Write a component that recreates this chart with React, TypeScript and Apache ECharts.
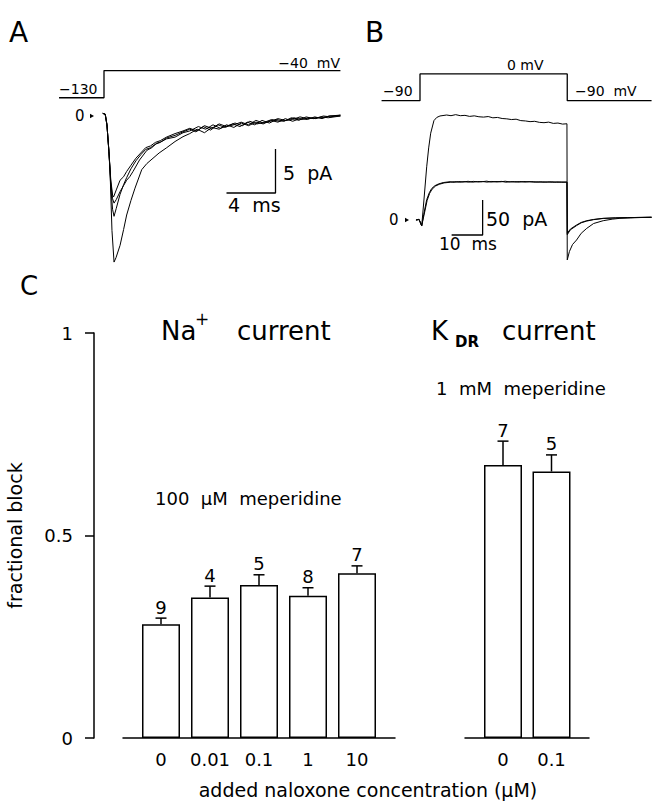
import React, { useEffect, useRef } from "react";
import * as echarts from "echarts";

const FONT = "DejaVu Sans";

// ---------- Panel A (Na+ current traces, ms / pA) ----------
const voltA: number[][] = [[-3.67, -130], [0, -130], [0, -40], [19.3, -40]];
const traceA1: number[][] = [[-0.1, 0.3], [0.1, 0.2], [0.24, -1], [0.4, -4], [0.49, -6.1], [0.65, -13], [0.82, -16.6], [0.98, -16.1], [1.31, -14.7], [1.6, -12.9], [1.85, -11.25], [2.2, -9.6], [2.53, -8.2], [3.08, -6.1], [3.5, -5.4], [4.0, -4.8], [4.5, -4.2], [5.12, -3.6], [5.8, -2.9], [6.45, -2.35], [7.0, -2.0], [7.6, -1.5], [8.2, -1.9], [8.8, -1.3], [9.4, -1.5], [10.0, -1.0], [10.6, -1.3], [11.2, -0.8], [11.8, -1.1], [12.4, -0.7], [13.0, -0.9], [13.6, -0.5], [14.2, -0.7], [14.8, -0.3], [15.4, -0.6], [16.0, -0.3], [16.6, -0.4], [17.2, -0.1], [17.8, -0.3], [18.4, 0.0], [19.3, 0.1]];
const traceA2: number[][] = [[-0.1, 0.3], [0.1, 0.2], [0.24, -1], [0.4, -4], [0.55, -8], [0.7, -10.6], [0.82, -11.4], [1.0, -10.5], [1.31, -8.9], [1.6, -7.8], [1.85, -7.0], [2.2, -6.0], [2.6, -5.1], [3.0, -4.4], [3.4, -3.8], [3.8, -3.6], [4.2, -3.2], [4.6, -3.0], [5.1, -2.5], [5.8, -2.2], [6.45, -1.8], [7.0, -1.5], [7.5, -1.8], [8.1, -1.2], [8.7, -1.6], [9.3, -1.0], [9.9, -1.3], [10.5, -0.9], [11.1, -1.2], [11.7, -0.7], [12.3, -1.0], [12.9, -0.5], [13.5, -0.8], [14.1, -0.4], [14.7, -0.6], [15.3, -0.2], [15.9, -0.5], [16.5, -0.1], [17.1, -0.3], [17.7, -0.1], [18.3, -0.2], [19.3, 0.0]];
const traceA3: number[][] = [[-0.1, 0.3], [0.1, 0.2], [0.24, -1], [0.4, -4], [0.55, -7.5], [0.7, -9.4], [0.82, -9.9], [1.0, -9.5], [1.31, -8.6], [1.6, -7.9], [1.85, -7.3], [2.1, -6.9], [2.37, -6.3], [2.9, -5.0], [3.5, -3.9], [3.9, -3.6], [4.3, -3.1], [4.7, -2.9], [5.1, -2.6], [5.8, -2.4], [6.45, -1.9], [7.0, -1.7], [7.7, -1.2], [8.3, -1.5], [8.9, -1.0], [9.5, -1.4], [10.1, -1.1], [10.7, -0.8], [11.3, -1.1], [11.9, -0.6], [12.5, -0.9], [13.1, -0.7], [13.7, -0.4], [14.3, -0.6], [14.9, -0.5], [15.5, -0.2], [16.1, -0.4], [16.7, -0.2], [17.3, -0.3], [17.9, 0.0], [18.5, -0.1], [19.3, 0.1]];
const traceA4: number[][] = [[-0.1, 0.3], [0.1, 0.2], [0.24, -1], [0.4, -4], [0.55, -7.2], [0.7, -9.0], [0.78, -9.2], [1.0, -8.4], [1.31, -7.3], [1.6, -6.9], [1.85, -6.3], [2.2, -5.6], [2.6, -4.8], [3.0, -4.2], [3.4, -3.6], [3.8, -3.4], [4.2, -3.0], [4.6, -2.8], [5.1, -2.4], [5.8, -2.0], [6.45, -1.7], [7.0, -1.4], [7.6, -1.7], [8.2, -1.1], [8.8, -1.4], [9.4, -0.9], [10.0, -1.2], [10.6, -1.0], [11.2, -0.7], [11.8, -1.0], [12.4, -0.5], [13.0, -0.8], [13.6, -0.6], [14.2, -0.3], [14.8, -0.5], [15.4, -0.4], [16.0, -0.1], [16.6, -0.3], [17.2, -0.2], [17.8, -0.2], [18.4, 0.0], [19.3, 0.0]];
const scaleA: number[][] = [[10, -8.75], [14, -8.75], [14, -3.75]];

// ---------- Panel B (K_DR current traces, ms / pA) ----------
const voltB: number[][] = [[-12.4, -90], [0, -90], [0, 0], [47.5, 0], [47.5, -90], [74.7, -90]];
const traceBctrl: number[][] = [[-1.3, 0], [-0.3, 1], [0.55, -8.6], [1.3, 30], [2.16, 76], [2.8, 103], [3.45, 124], [4.5, 142], [5.4, 146.5], [6.45, 148.6], [8.6, 150], [10, 149], [11.5, 150.5], [13, 149], [14.5, 149.5], [16, 148], [17.5, 148.8], [19, 147.5], [20.5, 147], [22, 147.8], [23.5, 146], [25, 146.5], [26.5, 145], [28, 144.5], [29.5, 143.5], [31, 144], [32.5, 142], [34, 141.5], [35.5, 140.5], [37, 141], [38.5, 139.5], [40, 139], [41.5, 139.8], [43, 138], [44.5, 138.5], [46, 137], [47.4, 137.5], [47.5, -57], [48.2, -45], [49.2, -35], [50.5, -28.6], [52, -19], [53.8, -11.9], [56, -5], [59.1, -1], [62, 1.2], [64.5, 2.4], [68, 3], [71, 3.5], [74.7, 3.9]];
const traceBdrug1: number[][] = [[-1.3, 0], [-0.3, 1], [0.55, -8.6], [1.2, 8], [2.16, 29], [3.0, 39], [3.77, 45], [4.8, 49], [5.9, 51.4], [7.5, 53.5], [9.7, 54.7], [11, 53.8], [12.5, 55], [14, 54.2], [15.5, 55.3], [17, 54], [18.5, 55], [20, 54.6], [21.5, 55.5], [23, 54.2], [24.5, 55], [26, 54.5], [27.5, 55.4], [29, 54.3], [30.5, 54.9], [32, 54.1], [33.5, 55], [35, 54.4], [36.5, 54.8], [38, 53.9], [39.5, 54.6], [41, 54], [42.5, 54.7], [44, 53.8], [45.5, 54.3], [47.4, 54], [47.5, -19], [48.5, -13], [50.5, -7.1], [52, -3.5], [53.8, -1], [56, 0.8], [59.1, 2.4], [63, 3], [67, 3.4], [71, 3.7], [74.7, 3.9]];
const traceBdrug2: number[][] = [[-1.3, 0], [-0.3, 0.5], [0.55, -8], [1.3, 7], [2.3, 28], [3.1, 38], [3.9, 44], [5, 48.5], [6.2, 51], [7.8, 53], [9.9, 54], [11.2, 54.8], [12.7, 53.9], [14.2, 54.9], [15.7, 54], [17.2, 55.2], [18.7, 54.3], [20.2, 55], [21.7, 54.1], [23.2, 55.1], [24.7, 54.3], [26.2, 55.2], [27.7, 54], [29.2, 54.8], [30.7, 54.2], [32.2, 55], [33.7, 54.1], [35.2, 54.9], [36.7, 54], [38.2, 54.7], [39.7, 53.9], [41.2, 54.5], [42.7, 53.8], [44.2, 54.5], [45.7, 53.9], [47.4, 54.2], [47.5, -21], [48.5, -14], [50.5, -8], [52, -4], [53.8, -1.5], [56, 0.5], [59.1, 2.2], [63, 3], [67, 3.4], [71, 3.7], [74.7, 3.9]];
const scaleB: number[][] = [[10.2, -21.4], [20.2, -21.4], [20.2, 28.6]];

// ---------- Panel C (fractional block) ----------
const naCats = ["0", "0.01", "0.1", "1", "10"];
const naValues = [0.281, 0.347, 0.378, 0.351, 0.407];
const naErrors = [0.015, 0.028, 0.025, 0.02, 0.018];
const naN = [9, 4, 5, 8, 7];
const kCats = ["0", "0.1"];
const kValues = [0.674, 0.658];
const kErrors = [0.059, 0.041];
const kN = [7, 5];

const BLACK = "#000";

function txt(text: string, x: number, y: number, size: number, align = "left", weight = "normal") {
  return {
    type: "text",
    x,
    y,
    silent: true,
    style: {
      text,
      fill: BLACK,
      fontSize: size,
      fontFamily: FONT,
      fontWeight: weight,
      align,
      textAlign: align,
      verticalAlign: "middle",
      textVerticalAlign: "middle",
    },
  };
}

function tri(x: number, y: number) {
  return {
    type: "polygon",
    silent: true,
    shape: { points: [[x, y - 2.2], [x, y + 2.2], [x + 4, y]] },
    style: { fill: BLACK },
  };
}

function errorSeries(idx: number, vals: number[], errs: number[], ns: number[]) {
  return {
    type: "custom",
    xAxisIndex: idx,
    yAxisIndex: idx,
    z: 5,
    data: vals.map((v, i) => [i, v, errs[i], ns[i]]),
    encode: { x: 0, y: 1 },
    renderItem: (params: any, api: any) => {
      const x = api.value(0);
      const v = api.value(1);
      const e = api.value(2);
      const n = api.value(3);
      const p0 = api.coord([x, v]);
      const p1 = api.coord([x, v + e]);
      return {
        type: "group",
        children: [
          { type: "line", shape: { x1: p0[0], y1: p0[1], x2: p1[0], y2: p1[1] }, style: { stroke: BLACK, lineWidth: 1.5 } },
          { type: "line", shape: { x1: p1[0] - 5.5, y1: p1[1], x2: p1[0] + 5.5, y2: p1[1] }, style: { stroke: BLACK, lineWidth: 1.5 } },
          {
            type: "text",
            x: p1[0],
            y: p1[1] - 2,
            style: {
              text: String(n),
              fill: BLACK,
              fontSize: 18,
              fontFamily: FONT,
              align: "center",
              textAlign: "center",
              verticalAlign: "bottom",
              textVerticalAlign: "bottom",
            },
          },
        ],
      };
    },
  };
}

function traceLine(data: number[][], idx: number, width = 1) {
  return {
    type: "line",
    xAxisIndex: idx,
    yAxisIndex: idx,
    data,
    symbol: "none",
    silent: true,
    lineStyle: { color: BLACK, width },
  };
}

const hiddenAxis = (gridIndex: number, min: number, max: number) => ({
  type: "value",
  gridIndex,
  min,
  max,
  show: false,
});

const baseAxis = (gridIndex: number) => ({
  type: "value",
  gridIndex,
  min: 0,
  max: 1,
  axisLine: { show: true, lineStyle: { color: BLACK, width: 1.5 } },
  axisTick: { show: false },
  axisLabel: { show: false },
  splitLine: { show: false },
});

const catAxis = (gridIndex: number, data: string[]) => ({
  type: "category",
  gridIndex,
  data,
  boundaryGap: true,
  axisLine: { show: false },
  axisTick: { show: false },
  axisLabel: { interval: 0, fontSize: 18, fontFamily: FONT, color: BLACK, margin: 12 },
  splitLine: { show: false },
});

const option: any = {
  animation: false,
  backgroundColor: "#fff",
  textStyle: { fontFamily: FONT },
  grid: [
    { left: 55, width: 294, top: 67.5, height: 33.3 }, // 0 voltage A
    { left: 55, width: 294, top: 98.4, height: 176 }, // 1 current A
    { left: 379.7, width: 275.9, top: 71, height: 32.6 }, // 2 voltage B
    { left: 379.7, width: 275.9, top: 108, height: 161 }, // 3 current B
    { left: 136.5, width: 245, top: 333, height: 405 }, // 4 Na bars
    { left: 123, width: 272, top: 333, height: 405 }, // 5 Na baseline
    { left: 478.75, width: 97, top: 333, height: 405 }, // 6 K bars
    { left: 465, width: 124, top: 333, height: 405 }, // 7 K baseline
  ],
  xAxis: [
    hiddenAxis(0, -4, 20),
    hiddenAxis(1, -4, 20),
    hiddenAxis(2, -13, 76),
    hiddenAxis(3, -13, 76),
    catAxis(4, naCats),
    baseAxis(5),
    catAxis(6, kCats),
    baseAxis(7),
  ],
  yAxis: [
    hiddenAxis(0, -140, -30),
    hiddenAxis(1, -18, 2),
    hiddenAxis(2, -100, 10),
    hiddenAxis(3, -70, 160),
    {
      type: "value",
      gridIndex: 4,
      min: 0,
      max: 1,
      interval: 0.5,
      offset: 42.5,
      axisLine: { show: true, lineStyle: { color: BLACK, width: 1.5 } },
      axisTick: { show: true, length: 9, lineStyle: { color: BLACK, width: 1.5 } },
      axisLabel: { fontSize: 18, fontFamily: FONT, color: BLACK, margin: 21 },
      splitLine: { show: false },
      name: "fractional block",
      nameLocation: "middle",
      nameGap: 70,
      nameTextStyle: { fontSize: 19, fontFamily: FONT, color: BLACK },
    },
    hiddenAxis(5, 0, 1),
    hiddenAxis(6, 0, 1),
    hiddenAxis(7, 0, 1),
  ],
  series: [
    traceLine(voltA, 0, 1.3),
    traceLine(traceA1, 1),
    traceLine(traceA2, 1),
    traceLine(traceA3, 1),
    traceLine(traceA4, 1),
    traceLine(scaleA, 1, 1.3),
    traceLine(voltB, 2, 1.3),
    traceLine(traceBctrl, 3),
    traceLine(traceBdrug1, 3),
    traceLine(traceBdrug2, 3),
    traceLine(scaleB, 3, 1.3),
    {
      type: "bar",
      xAxisIndex: 4,
      yAxisIndex: 4,
      data: naValues,
      barWidth: 38,
      silent: true,
      itemStyle: { color: "#fff", borderColor: BLACK, borderWidth: 1.5 },
    },
    errorSeries(4, naValues, naErrors, naN),
    {
      type: "bar",
      xAxisIndex: 6,
      yAxisIndex: 6,
      data: kValues,
      barWidth: 38,
      silent: true,
      itemStyle: { color: "#fff", borderColor: BLACK, borderWidth: 1.5 },
    },
    errorSeries(6, kValues, kErrors, kN),
  ],
  graphic: [
    txt("A", 9, 32, 28),
    txt("B", 365, 32, 28),
    txt("C", 20, 286, 26),
    // Panel A labels
    txt("\u2212130", 59, 89, 14),
    txt("\u221240  mV", 340, 63, 14, "right"),
    txt("0", 75, 116, 15),
    tri(90, 116),
    txt("5  pA", 283, 173, 19),
    txt("4  ms", 228, 205, 19),
    // Panel B labels
    txt("\u221290", 383, 91, 14),
    txt("0 mV", 507, 65, 14),
    txt("\u221290  mV", 575, 91, 14),
    txt("0", 389, 220, 15),
    tri(405, 220),
    txt("50  pA", 486, 219, 19),
    txt("10  ms", 439, 244, 17),
    // Panel C titles
    txt("Na", 161, 331, 26),
    txt("+", 195, 319, 17),
    txt("current", 237, 331, 26),
    txt("K", 431, 331, 26),
    txt("DR", 455, 342, 15, "left", "bold"),
    txt("current", 502, 331, 26),
    txt("100  \u03bcM  meperidine", 155, 498, 18),
    txt("1  mM  meperidine", 436, 388, 18),
    txt("added naloxone concentration (\u03bcM)", 368, 790, 19, "center"),
  ],
};

export default function App() {
  const ref = useRef<HTMLDivElement>(null);
  useEffect(() => {
    if (!ref.current) return;
    const chart = echarts.init(ref.current, null, { renderer: "svg", width: 658, height: 801 });
    chart.setOption(option);
    return () => chart.dispose();
  }, []);
  return (
    <div
      ref={ref}
      style={{ position: "absolute", left: 0, top: 0, width: 658, height: 801, background: "#fff" }}
    />
  );
}
